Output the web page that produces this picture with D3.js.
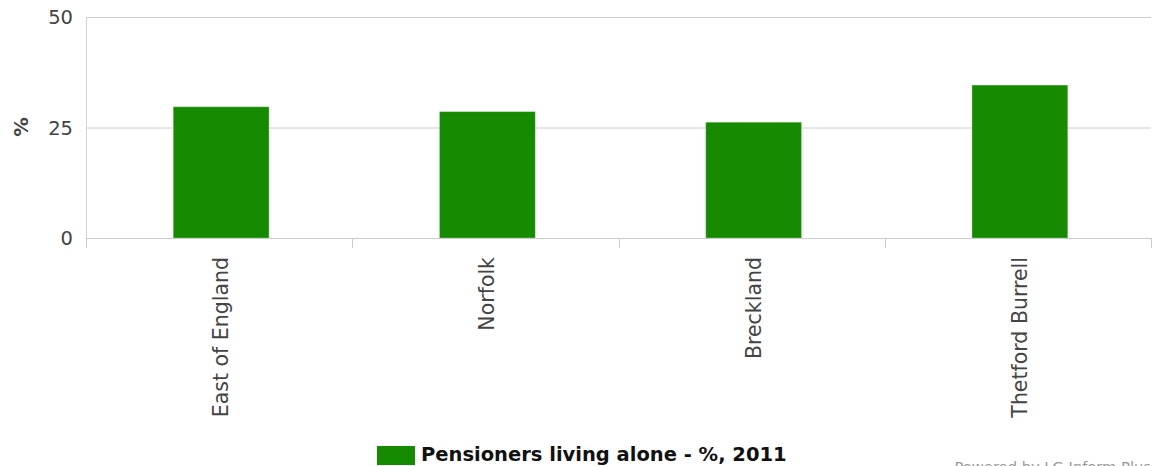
<!DOCTYPE html>
<html><head><meta charset="utf-8">
<script src="https://cdn.jsdelivr.net/npm/d3@7"></script>
<style>body{margin:0;background:#fff;font-family:"DejaVu Sans",sans-serif;}</style>
</head><body>
<svg id="c" width="1152" height="466"></svg>
<script>
const categories = ["East of England","Norfolk","Breckland","Thetford Burrell"];
const values = [29.7, 28.6, 26.2, 34.6];
const yTicks = [0, 25, 50];
const seriesName = "Pensioners living alone - %, 2011";

const svg = d3.select("#c");
const m = {l:86, r:1151, t:17, b:238};
const x = d3.scaleBand().domain(categories).range([m.l+2, m.r+2]).paddingInner(0.64).paddingOuter(0.32);
const y = d3.scaleLinear().domain([0,50]).range([m.b, m.t]);

// gridlines
svg.append("g").selectAll("line").data(yTicks).join("line")
  .attr("x1", m.l).attr("x2", m.r).attr("y1", d=>y(d)+0.5).attr("y2", d=>y(d)+0.5)
  .attr("stroke", "#cccccc");
// y axis line
svg.append("line").attr("x1", m.l+0.5).attr("x2", m.l+0.5).attr("y1", m.t).attr("y2", m.b)
  .attr("stroke", "#ccd6eb");
// y labels
svg.append("g").selectAll("text").data(yTicks).join("text")
  .attr("x", 73).attr("y", d=>y(d)+7).attr("text-anchor","end")
  .attr("font-size", 19.5).attr("fill", "#444").text(d=>d);
svg.append("text").attr("transform","translate(28,127) rotate(-90)")
  .attr("text-anchor","middle").attr("font-size",19.5).attr("font-weight","bold").attr("fill","#444").text("%");

// bars
svg.append("g").selectAll("rect").data(values).join("rect")
  .attr("x", (d,i)=>x(categories[i])).attr("width", x.bandwidth())
  .attr("y", d=>y(d)).attr("height", d=>y(0)-y(d))
  .attr("fill", "#168a00").attr("stroke","#ffffff").attr("stroke-opacity",0.3);

// x axis line + ticks
svg.append("line").attr("x1", m.l).attr("x2", m.r).attr("y1", m.b+0.5).attr("y2", m.b+0.5).attr("stroke","#cccccc");
const bounds = d3.range(categories.length+1).map(i => m.l + i*(m.r-m.l)/categories.length);
svg.append("g").selectAll("line").data(bounds).join("line")
  .attr("x1", d=>Math.round(d)+0.5).attr("x2", d=>Math.round(d)+0.5).attr("y1", m.b).attr("y2", m.b+10)
  .attr("stroke","#cccccc");
// x labels
svg.append("g").selectAll("text").data(categories).join("text")
  .attr("transform", d=>`translate(${x(d)+x.bandwidth()/2+7},257) rotate(-90)`)
  .attr("text-anchor","end").attr("font-size",20.5).attr("fill","#444").text(d=>d);

// legend
svg.append("rect").attr("x",377).attr("y",446).attr("width",38).attr("height",19).attr("fill","#168a00");
svg.append("text").attr("x",421).attr("y",461).attr("font-size",19.5).attr("font-weight","bold").attr("fill","#111").text(seriesName);
svg.append("text").attr("x",1151).attr("y",472).attr("text-anchor","end").attr("font-size",14.7).attr("fill","#999").text("Powered by LG Inform Plus");
</script>
</body></html>
